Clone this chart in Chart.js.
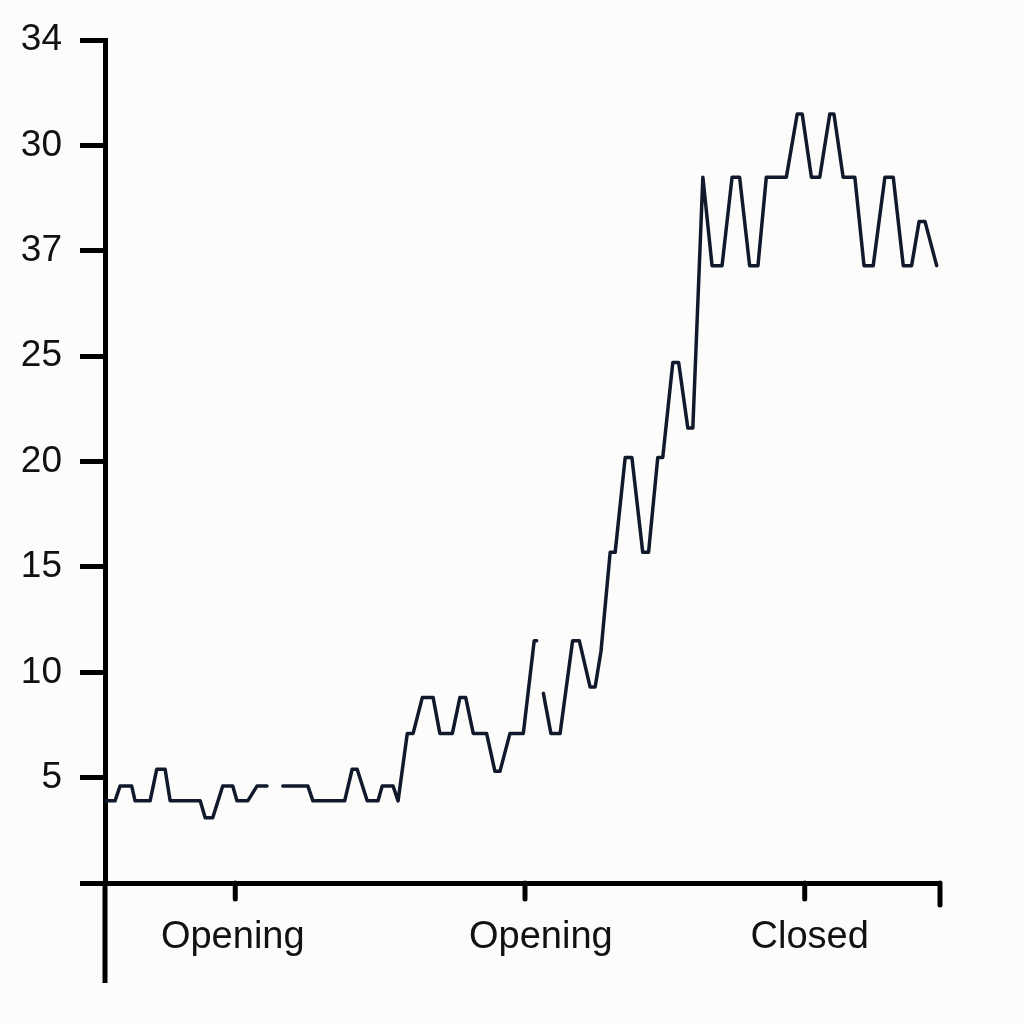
<!DOCTYPE html>
<html>
<head>
<meta charset="utf-8">
<script src="https://cdn.jsdelivr.net/npm/chart.js"></script>
<style>
    body { margin: 0; background: #fcfcfb; }
    #wrap { width: 1024px; height: 1024px; }
</style>
</head>
<body>
<div id="wrap"><canvas id="myChart"></canvas></div>
<script>
// Posiciones en el eje X (0-100) y valores; null = hueco en la linea
const xPoints = [
    0, 1.2, 1.8, 3.2, 3.6, 5.4, 6.2, 7.2, 7.8, 11.4, 12.0, 12.9, 14.1, 15.3, 15.8, 17.1, 18.2, 19.4,
    20.4,
    21.3, 24.3, 24.9, 28.7, 29.6, 30.2, 31.4, 32.7, 33.2, 34.5, 35.1, 36.2, 36.9, 38.0, 39.3, 40.1,
    41.6, 42.5, 43.2, 44.1, 45.7, 46.7, 47.3, 48.5, 50.1, 51.4, 51.7,
    52.1,
    52.5, 53.4, 54.5, 56.0, 56.8, 58.1, 58.7, 59.4, 60.5, 61.1, 62.3, 63.1, 64.4, 65.1, 66.2, 66.8,
    68.0, 68.7, 69.8, 70.4, 71.6, 72.7, 73.9, 75.1, 76.0, 77.2, 78.2, 79.2, 81.6, 82.9, 83.5, 84.6,
    85.6, 86.8, 87.3, 88.4, 89.8, 90.9, 92.0, 93.4, 94.4, 95.6, 96.6, 97.5, 98.2, 99.6
];
const yValues = [
    3.9, 3.9, 4.6, 4.6, 3.9, 3.9, 5.4, 5.4, 3.9, 3.9, 3.1, 3.1, 4.6, 4.6, 3.9, 3.9, 4.6, 4.6,
    null,
    4.6, 4.6, 3.9, 3.9, 5.4, 5.4, 3.9, 3.9, 4.6, 4.6, 3.9, 7.1, 7.1, 8.8, 8.8, 7.1,
    7.1, 8.8, 8.8, 7.1, 7.1, 5.3, 5.3, 7.1, 7.1, 11.5, 11.5,
    null,
    9.0, 7.1, 7.1, 11.5, 11.5, 9.3, 9.3, 11.0, 15.7, 15.7, 20.2, 20.2, 15.7, 15.7, 20.2, 20.2,
    24.7, 24.7, 21.6, 21.6, 33.5, 29.3, 29.3, 33.5, 33.5, 29.3, 29.3, 33.5, 33.5, 36.5, 36.5, 33.5,
    33.5, 36.5, 36.5, 33.5, 33.5, 29.3, 29.3, 33.5, 33.5, 29.3, 29.3, 31.4, 31.4, 29.3
];

// Marcas del eje X y posiciones de sus etiquetas (no coinciden del todo en la imagen)
const xTickPositions = [15.6, 50.3, 83.8, 100];
const xLabelPositions = [15.3, 52.2, 84.4];
const xTickLabels = ['Opening', 'Opening', 'Closed'];
const yTickLabels = ['', '5', '10', '15', '20', '25', '37', '30', '34'];

// Marcas del eje X y prolongacion del eje Y por debajo del eje X
const ejesExtra = {
    id: 'ejesExtra',
    afterDraw(chart) {
        const ctx = chart.ctx;
        const area = chart.chartArea;
        const xScale = chart.scales.x;
        ctx.save();
        ctx.strokeStyle = '#000';
        ctx.lineWidth = 5;
        ctx.beginPath();
        ctx.moveTo(area.left, area.bottom);
        ctx.lineTo(area.left, area.bottom + 100);
        ctx.stroke();
        ctx.lineCap = 'round';
        xTickPositions.forEach((v, i) => {
            const x = xScale.getPixelForValue(v);
            const largo = i === xTickPositions.length - 1 ? 22 : 16;
            ctx.beginPath();
            ctx.moveTo(x, area.bottom);
            ctx.lineTo(x, area.bottom + largo);
            ctx.stroke();
        });
        ctx.restore();
    }
};

function crearChart() {
    const ctx = document.getElementById('myChart').getContext('2d');
    const puntos = xPoints.map((x, i) => ({ x: x, y: yValues[i] }));
    new Chart(ctx, {
        type: 'line',
        data: {
            datasets: [{
                data: puntos,
                borderColor: '#111a2c',
                borderWidth: 3.5,
                borderJoinStyle: 'round',
                borderCapStyle: 'round',
                pointRadius: 0,
                tension: 0,
                spanGaps: false,
                fill: false
            }]
        },
        options: {
            responsive: true,
            maintainAspectRatio: false,
            animation: false,
            layout: { padding: { top: 40, right: 84, bottom: 0, left: 0 } },
            plugins: {
                legend: { display: false },
                tooltip: { enabled: false }
            },
            scales: {
                x: {
                    type: 'linear',
                    min: 0,
                    max: 100,
                    afterBuildTicks: (scale) => {
                        scale.ticks = xLabelPositions.map(v => ({ value: v }));
                    },
                    afterFit: (scale) => { scale.height = 141; },
                    ticks: {
                        autoSkip: false,
                        maxRotation: 0,
                        padding: 32,
                        color: '#111',
                        font: { family: 'Liberation Sans', size: 38 },
                        callback: (value, index) => xTickLabels[index]
                    },
                    grid: {
                        display: false,
                        drawTicks: false
                    },
                    border: { display: true, width: 5, color: '#000' }
                },
                y: {
                    min: 0,
                    max: 40,
                    afterFit: (scale) => { scale.width = 105; },
                    ticks: {
                        stepSize: 5,
                        padding: 18,
                        color: '#111',
                        font: { family: 'Liberation Sans', size: 37 },
                        callback: (value, index) => yTickLabels[index]
                    },
                    grid: {
                        drawOnChartArea: false,
                        tickLength: 25,
                        lineWidth: 5,
                        color: '#000'
                    },
                    border: { display: true, width: 5, color: '#000' }
                }
            }
        },
        plugins: [ejesExtra]
    });
}

crearChart();
</script>
</body>
</html>
